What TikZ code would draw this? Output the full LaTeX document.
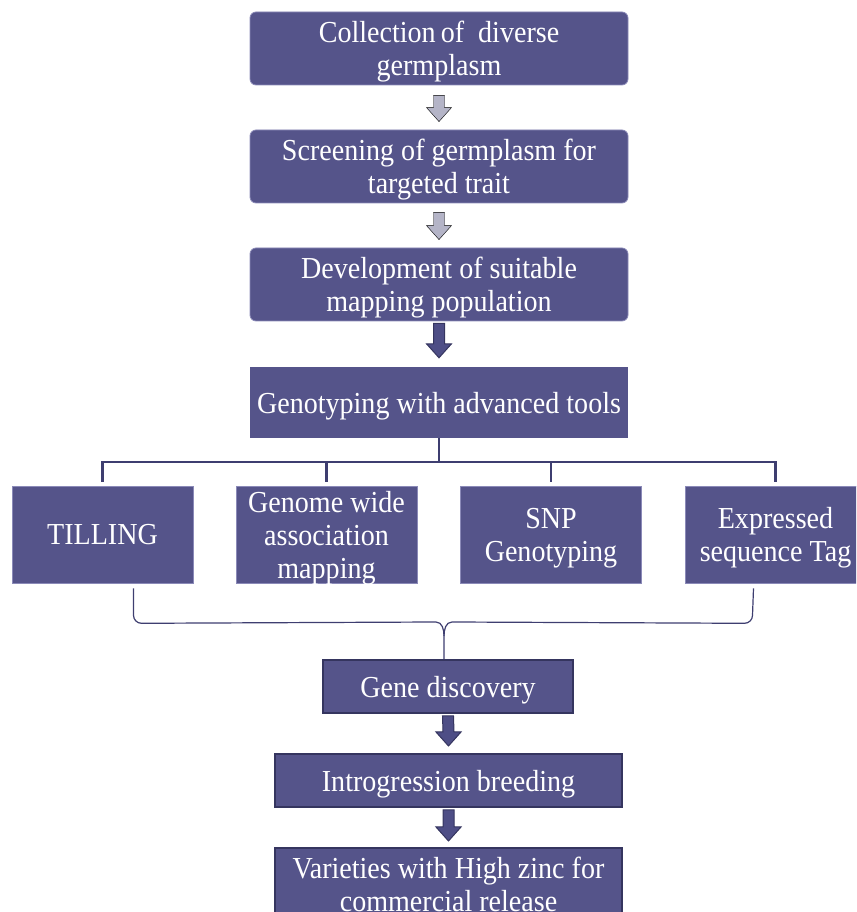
\documentclass[tikz,border=0pt]{standalone}
\usepackage{fontspec}
\setmainfont[FakeStretch=0.92]{Liberation Serif}
\usetikzlibrary{calc,positioning}

\definecolor{boxfill}{HTML}{55548A}
\definecolor{boxedge}{HTML}{8B8AB8}
\definecolor{darkedge}{HTML}{35355F}
\definecolor{arrowgrey}{HTML}{B4B4C7}
\definecolor{arrowfill}{HTML}{4E4E86}
\definecolor{treeline}{HTML}{3E3E70}

% vertical block arrow from #2 down to the tip #3
\newcommand{\blockarrow}[3]{%
  \draw[#1] ($(#2)+(-5.5,0)$) -- ($(#3)+(-5.5,14)$) -- ($(#3)+(-12.5,14)$) -- (#3)
    -- ($(#3)+(12.5,14)$) -- ($(#3)+(5.5,14)$) -- ($(#2)+(5.5,0)$) -- cycle;}

\begin{document}
\begin{tikzpicture}[
    x=1pt,
    y=1pt,
    font=\fontsize{30.5}{33}\selectfont,
    box/.style={fill=boxfill, text=white, align=center, inner sep=0pt, text depth=0pt,
      minimum width=378pt, minimum height=73pt},
    roundbox/.style={box, draw=boxedge, line width=0.8pt, rounded corners=6pt},
    toolbox/.style={box, draw=boxedge, line width=0.6pt, minimum width=181pt, minimum height=97pt},
    stepbox/.style={box, draw=darkedge, line width=2pt, minimum height=53pt},
    greyarrow/.style={fill=arrowgrey},
    darkarrow/.style={fill=arrowfill, draw=darkedge, line width=1pt},
    tree/.style={treeline, line width=2.5pt},
    brace/.style={treeline, line width=1.2pt}
  ]
    \clip (0,0) rectangle (856,912);

    % main column
    \node[roundbox] (coll) at (439,863.5) {Collection\,of \ diverse\\germplasm};
    \node[roundbox] (scr) at (439,745.5) {Screening of germplasm for\\targeted trait};
    \node[roundbox] (dev) at (439,627.5) {Development of suitable\\mapping population};
    \node[box, minimum height=71pt] (geno) at (439,509.5) {Genotyping with advanced tools};

    % tools
    \node[toolbox] (till) at (102.5,377.5) {TILLING};
    \node[toolbox] (gwas) at (326.5,377.5) {Genome wide\\association\\mapping};
    \node[toolbox] (snp) at (551,377.5) {SNP\\Genotyping};
    \node[toolbox] (est) at (775.5,377.5) {Expressed\\sequence Tag};

    % lower column
    \node[stepbox, minimum width=250pt] (gene) at (448,225.5) {Gene discovery};
    \node[stepbox, minimum width=347pt] (intro) at (448.5,131.5) {Introgression breeding};
    \node[stepbox, minimum width=347pt, minimum height=73pt] (vari) at (448.5,27.5)
      {Varieties with High zinc for\\commercial release};

    \blockarrow{greyarrow}{[yshift=-10pt]coll.south}{[yshift=8pt]scr.north}
    \blockarrow{greyarrow}{[yshift=-9pt]scr.south}{[yshift=8pt]dev.north}
    \blockarrow{darkarrow}{[yshift=-2pt]dev.south}{[yshift=9pt]geno.north}
    \blockarrow{darkarrow}{[yshift=-2pt]gene.south}{[yshift=7pt]intro.north}
    \blockarrow{darkarrow}{[yshift=-2pt]intro.south}{[yshift=6pt]vari.north}

    % branching
    \coordinate (hub) at ($(geno.south)+(0,-24)$);
    \draw[tree] (geno.south) -- (hub);
    \draw[tree] ([yshift=4pt]till.north) -- (till.north |- hub) -- (est.north |- hub)
      -- ([yshift=4pt]est.north);
    \draw[tree] ([yshift=4pt]gwas.north) -- (gwas.north |- hub);
    \draw[tree] ([yshift=4pt]snp.north) -- (snp.north |- hub);

    % brace
    \coordinate (cusp) at ([xshift=-4pt]gene.north);
    \coordinate (bar) at ($(cusp)+(0,37)$);
    \draw[brace] ([xshift=31pt,yshift=-5pt]till.south) -- ++(0,-27) to[out=-90,in=180] ++(8,-8)
      -- ([xshift=-8pt]bar) to[out=0,in=90] ++(8,-14) -- (cusp);
    \draw[brace] ([xshift=-22pt,yshift=-5pt]est.south) -- ++(-1,-27) to[out=-90,in=0] ++(-8,-8)
      -- ([xshift=8pt]bar) to[out=180,in=90] ++(-8,-14);
\end{tikzpicture}
\end{document}
